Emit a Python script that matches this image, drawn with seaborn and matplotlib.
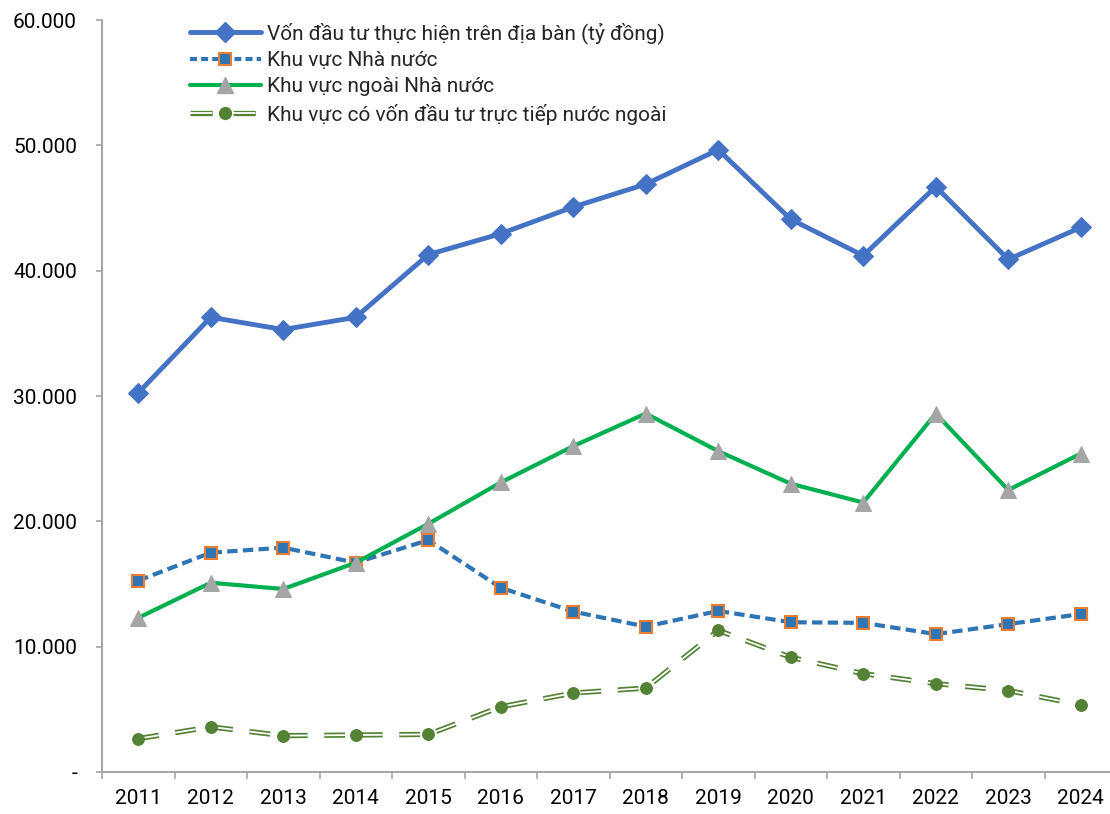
import matplotlib
matplotlib.use("Agg")
import matplotlib.pyplot as plt
import seaborn as sns
from matplotlib.lines import Line2D
from matplotlib.legend_handler import HandlerTuple

# Data
years = ["2011", "2012", "2013", "2014", "2015", "2016", "2017",
         "2018", "2019", "2020", "2021", "2022", "2023", "2024"]
total = [30250, 36280, 35300, 36280, 41280, 42950, 45080,
         46900, 49650, 44100, 41200, 46700, 40900, 43450]
state = [15270, 17500, 17900, 16700, 18500, 14700, 12800,
         11600, 12850, 11950, 11900, 11000, 11800, 12600]
non_state = [12300, 15100, 14600, 16700, 19800, 23100, 26000,
             28600, 25600, 23000, 21500, 28600, 22500, 25400]
fdi = [2660, 3600, 2900, 2950, 3000, 5200, 6300,
       6700, 11300, 9150, 7850, 7050, 6500, 5350]
labels = ["Vốn đầu tư thực hiện trên địa bàn (tỷ đồng)",
          "Khu vực Nhà nước",
          "Khu vực ngoài Nhà nước",
          "Khu vực có vốn đầu tư trực tiếp nước ngoài"]
yticks = [0, 10000, 20000, 30000, 40000, 50000, 60000]

C_TOTAL = "#4472C4"
C_STATE = "#2E75B6"
C_ORANGE = "#ED7D31"
C_NON = "#00B050"
C_GREY = "#A5A5A5"
C_FDI = "#548235"
C_AXIS = "#A6A6A6"
DASH_STATE = (0, (7.5, 3.8))
DASH_FDI = (0, (15, 12))

sns.set_style("white")
plt.rcParams["font.family"] = ["Roboto", "DejaVu Sans"]
plt.rcParams["lines.scale_dashes"] = False

fig = plt.figure(figsize=(11.1, 8.14), dpi=100)
ax = fig.add_axes([102 / 1110, 42 / 814, 1015 / 1110, 752 / 814])

sns.lineplot(x=years, y=total, color=C_TOTAL, lw=3.5, marker="D", markersize=10,
             markeredgecolor=C_TOTAL, ax=ax, sort=False)
sns.lineplot(x=years, y=state, color=C_STATE, lw=3, ls=DASH_STATE, marker="s",
             markersize=8.5, markerfacecolor=C_STATE, markeredgecolor=C_ORANGE,
             markeredgewidth=1.5, ax=ax, sort=False)
sns.lineplot(x=years, y=non_state, color=C_NON, lw=3, marker="^", markersize=11,
             markerfacecolor=C_GREY, markeredgecolor=C_GREY, ax=ax, sort=False)
# double dashed line for FDI: green stroke with a white core on the same dashes
sns.lineplot(x=years, y=fdi, color=C_FDI, lw=3.8, ls=DASH_FDI, ax=ax, sort=False)
sns.lineplot(x=years, y=fdi, color="white", lw=1.3, ls=DASH_FDI, ax=ax, sort=False)
sns.lineplot(x=years, y=fdi, color=C_FDI, ls="none", marker="o", markersize=8.5,
             markeredgecolor=C_FDI, ax=ax, sort=False)

ax.set_xlim(-0.5, 13.5)
ax.set_ylim(0, 60000)
ax.set_xlabel("")
ax.set_ylabel("")

ax.set_xticks(range(len(years)))
ax.set_xticklabels(years)
ax.set_xticks([i - 0.5 for i in range(len(years) + 1)], minor=True)
ax.tick_params(axis="x", which="major", length=0, labelsize=15, pad=12, colors="black")
ax.tick_params(axis="x", which="minor", length=5, width=1.2, color=C_AXIS, direction="out")
ax.xaxis.set_tick_params(which="both", bottom=True)

ax.set_yticks(yticks)
ax.set_yticklabels(["-"] + [f"{v:,}".replace(",", ".") for v in yticks[1:]])
ax.tick_params(axis="y", length=4, width=1.2, color=C_AXIS, labelsize=15, pad=14,
               left=True, direction="out", labelcolor="black")

for s in ["top", "right"]:
    ax.spines[s].set_visible(False)
for s in ["left", "bottom"]:
    ax.spines[s].set_color(C_AXIS)
    ax.spines[s].set_linewidth(1.5)

# legend
h1 = Line2D([], [], color=C_TOTAL, lw=3.5, marker="D", markersize=10)
h2 = Line2D([], [], color=C_STATE, lw=3, ls=(0, (5, 3)), marker="s", markersize=8.5,
            markerfacecolor=C_STATE, markeredgecolor=C_ORANGE, markeredgewidth=1.5)
h3 = Line2D([], [], color=C_NON, lw=3, marker="^", markersize=11,
            markerfacecolor=C_GREY, markeredgecolor=C_GREY)
h4 = (Line2D([], [], color=C_FDI, lw=3.8, ls=(0, (16, 15))),
      Line2D([], [], color="white", lw=1.3, ls=(0, (16, 15))),
      Line2D([], [], color=C_FDI, ls="none", marker="o", markersize=8.5))
ax.legend([h1, h2, h3, h4], labels, loc="upper left",
          bbox_to_anchor=(190 / 1110, 1 - 22 / 814), bbox_transform=fig.transFigure,
          frameon=False, fontsize=15, handlelength=3.4, handletextpad=0.3,
          labelspacing=0.35, borderaxespad=0, borderpad=0,
          handler_map={tuple: HandlerTuple(ndivide=1, pad=0)})

fig.savefig("out.png", dpi=100)
